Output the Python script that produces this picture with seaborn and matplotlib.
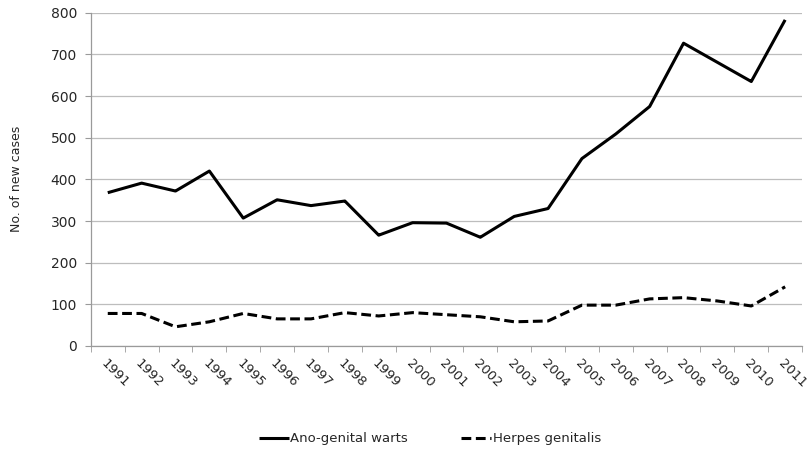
import numpy as np
import pandas as pd
import seaborn as sns
import matplotlib.pyplot as plt
from matplotlib.ticker import FixedLocator

# Data
years = [str(y) for y in range(1991, 2012)]
warts = [368, 391, 372, 420, 307, 351, 337, 348, 266, 296, 295,
         261, 311, 330, 450, 509, 575, 727, 681, 635, 783]
herpes = [78, 78, 46, 58, 78, 65, 65, 80, 72, 80, 75,
          70, 58, 60, 98, 98, 113, 116, 108, 96, 142]
series_names = ['Ano-genital warts', 'Herpes genitalis']

df = pd.DataFrame({
    'pos': list(range(len(years))) * 2,
    'cases': warts + herpes,
    'series': [series_names[0]] * len(years) + [series_names[1]] * len(years),
})

sns.set_style('white')
plt.rcParams['font.family'] = ['DejaVu Sans']

fig = plt.figure(figsize=(8.11, 4.57), dpi=100)
ax = fig.add_axes([0.112, 0.243, 0.877, 0.729])

sns.lineplot(data=df, x='pos', y='cases', hue='series', style='series',
             palette=['black', 'black'], dashes=[(1, 0), (3.2, 1.5)],
             linewidth=2.2, ax=ax, legend=True)

# Axes styling
ax.set_xlim(-0.5, len(years) - 0.5)
ax.set_ylim(0, 800)
ax.set_yticks(range(0, 801, 100))
ax.yaxis.grid(True, color='#bdbdbd', linewidth=0.9)
ax.set_axisbelow(True)
for side in ['top', 'right']:
    ax.spines[side].set_visible(False)
for side in ['left', 'bottom']:
    ax.spines[side].set_color('#9a9a9a')
    ax.spines[side].set_linewidth(0.9)

ax.set_xticks(range(len(years)))
ax.set_xticklabels(years, rotation=-45, ha='left', rotation_mode='anchor',
                   fontsize=9.5)
ax.xaxis.set_minor_locator(FixedLocator(np.arange(-0.5, len(years), 1)))
ax.tick_params(axis='x', which='major', length=0, pad=8)
ax.tick_params(axis='x', which='minor', length=4, color='#9a9a9a', bottom=True)
ax.tick_params(axis='y', which='major', length=4, color='#9a9a9a', left=True,
               labelsize=10, pad=6)

ax.set_xlabel('')
ax.set_ylabel('No. of new cases', fontsize=9, labelpad=20)

# Legend below the plot
handles, labels = ax.get_legend_handles_labels()
ax.legend_.remove()
fig.legend(handles, labels, loc='lower center', bbox_to_anchor=(0.53, 0.0),
           ncol=2, frameon=False, fontsize=9.5, handlelength=2.3,
           handletextpad=0.1, columnspacing=4)

fig.savefig('out.png', dpi=100)
